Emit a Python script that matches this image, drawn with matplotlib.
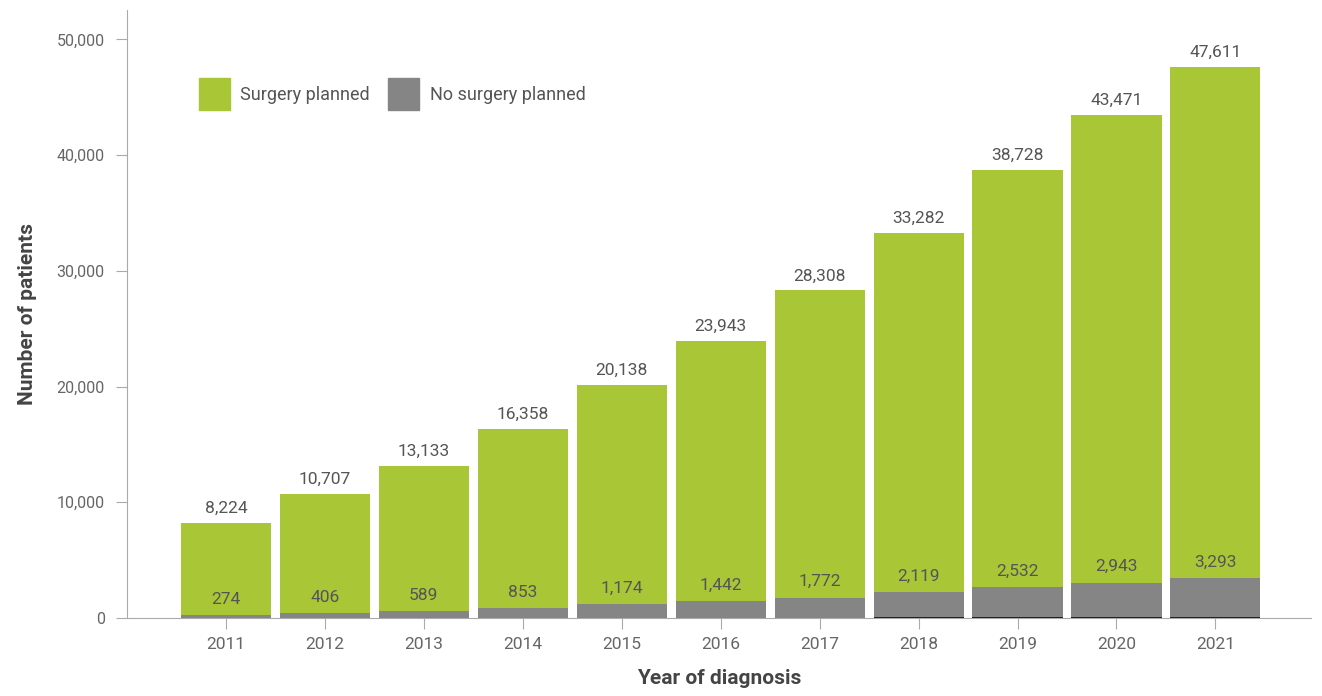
import numpy as np
import matplotlib.pyplot as plt
from matplotlib import font_manager
from matplotlib.patches import Patch

# patient counts by year of diagnosis
years = ["2011", "2012", "2013", "2014", "2015", "2016", "2017", "2018", "2019", "2020", "2021"]
total = [8224, 10707, 13133, 16358, 20138, 23943, 28308, 33282, 38728, 43471, 47611]
no_surgery = [274, 406, 589, 853, 1174, 1442, 1772, 2119, 2532, 2943, 3293]
unknown = [0, 0, 0, 0, 0, 0, 0, 90, 110, 120, 130]

GREEN = "#a9c637"
GREY = "#858585"

names = {f.name for f in font_manager.fontManager.ttflist}
narrow = "Liberation Sans Narrow" if "Liberation Sans Narrow" in names else "Roboto"
plt.rcParams["font.family"] = [narrow, "DejaVu Sans"]

x = np.arange(len(years))
w = 0.91

fig, ax = plt.subplots(figsize=(13.22, 6.96), dpi=100)
fig.subplots_adjust(left=0.096, right=0.992, top=0.985, bottom=0.112)

ax.bar(x, total, width=w, color=GREEN, zorder=2)
ax.bar(x, np.array(no_surgery) + np.array(unknown), width=w, color=GREY, zorder=3)
ax.bar(x, unknown, width=w, color="#222222", zorder=4)

for xi, t, n, u in zip(x, total, no_surgery, unknown):
    ax.annotate(f"{t:,}", (xi, t), xytext=(0, 5), textcoords="offset points",
                ha="center", va="bottom", fontsize=12.5, color="#555555")
    ax.annotate(f"{n:,}", (xi, n + u), xytext=(0, 6), textcoords="offset points",
                ha="center", va="bottom", fontsize=12.5, color="#555555", zorder=5)

ax.set_xlim(-1.0, len(years) - 0.03)
ax.set_ylim(0, 52500)
ax.set_xticks(x)
ax.set_xticklabels(years)
ax.set_yticks(np.arange(0, 50001, 10000))
ax.set_yticklabels([f"{v:,}" for v in range(0, 50001, 10000)], family="Roboto")

for side in ["top", "right"]:
    ax.spines[side].set_visible(False)
for side in ["left", "bottom"]:
    ax.spines[side].set_color("#aaaaaa")
ax.tick_params(axis="both", colors="#aaaaaa", labelcolor="#666666", length=8)
ax.tick_params(axis="y", labelsize=11.5, pad=8)
ax.tick_params(axis="x", labelsize=12.5, pad=6)

ax.set_xlabel("Year of diagnosis", fontsize=15, fontweight="bold", color="#444444", labelpad=12)
ax.set_ylabel("Number of patients", fontsize=15, fontweight="bold", color="#444444", labelpad=14)

handles = [Patch(color=GREEN, label="Surgery planned"),
           Patch(color=GREY, label="No surgery planned")]
ax.legend(handles=handles, loc="upper left", bbox_to_anchor=(0.047, 0.915), frameon=False,
          ncol=2, fontsize=13, handlelength=1.7, handleheight=2.3,
          handletextpad=0.6, columnspacing=1.0, labelcolor="#555555")

fig.savefig("out.png", dpi=100)
